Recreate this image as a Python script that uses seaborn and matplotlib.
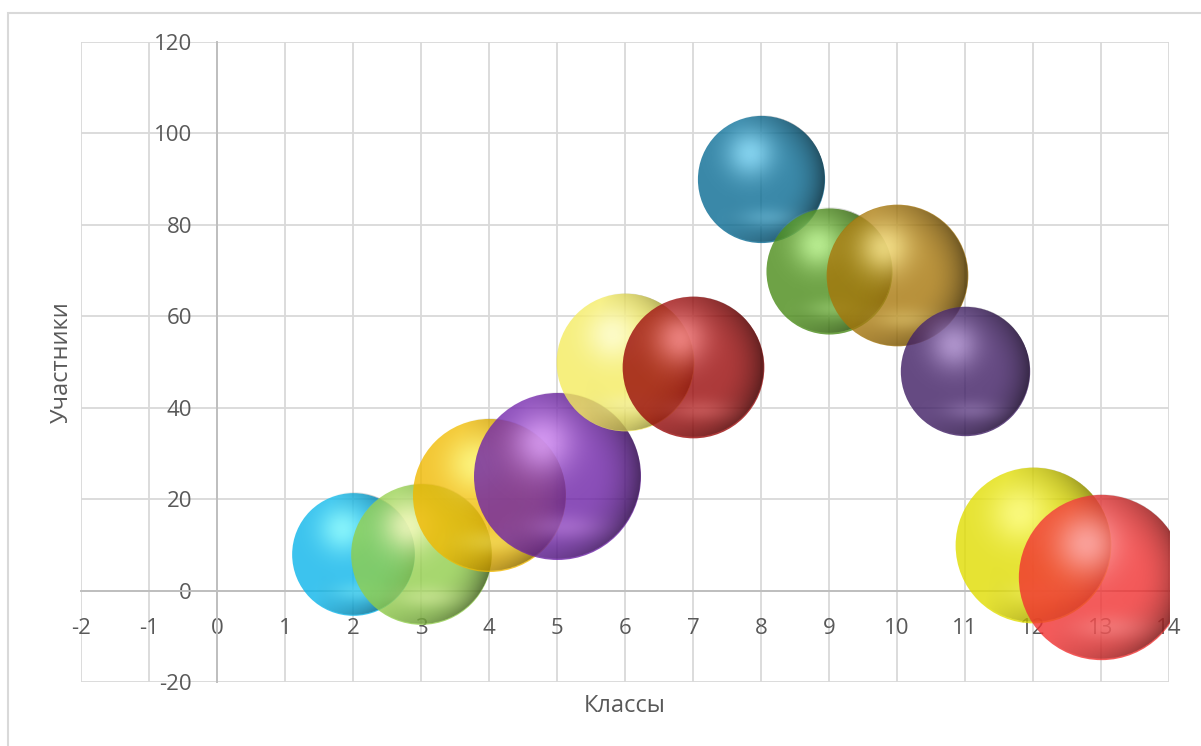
import numpy as np
import pandas as pd
import matplotlib
matplotlib.use("Agg")
import matplotlib.pyplot as plt
import matplotlib.colors as mcolors
import seaborn as sns
from matplotlib.offsetbox import OffsetImage, AnnotationBbox
from matplotlib.patches import Rectangle

# Bubble data
classes = [2, 3, 4, 5, 6, 7, 8, 9, 10, 11, 12, 13]
participants = [8, 8, 21, 25, 50, 49, 90, 70, 69, 48, 10, 3]
bubble_size = [54, 71, 84, 100, 68, 72, 58, 57, 72, 60, 87, 98]
colors = ["#0bb5ea", "#90ce4a", "#f0b800", "#6d22a7", "#f4eb5e", "#990909",
          "#096a92", "#4a8b18", "#a6760a", "#3e1d63", "#e0dd00", "#f13030"]

x_ticks = list(range(-2, 15))
y_ticks = list(range(-20, 121, 20))

df = pd.DataFrame({"x": classes, "y": participants, "size": bubble_size, "color": colors})

sns.set_theme(style="white")
plt.rcParams["font.family"] = ["Open Sans", "DejaVu Sans"]
plt.rcParams["axes.unicode_minus"] = False

DPI = 100
ALPHA = 0.8
fig = plt.figure(figsize=(12.01, 7.46), dpi=DPI)
ax = fig.add_axes([81 / 1201, 64 / 746, 1088 / 1201, 640 / 746])

# chart area border
fig.patches.append(Rectangle((8 / 1201, -0.1), 1.2, 1.1 - 13 / 746, transform=fig.transFigure,
                             fill=False, edgecolor="#d9d9d9", linewidth=1.5, zorder=0))

MAX_R_PX = 83.5  # radius of the biggest bubble, pixels


def sphere_shading(color, n=240):
    # light spot upper left, reflection low, darker rim on the right
    seen = ALPHA * np.array(mcolors.to_rgb(color)) + (1 - ALPHA)
    light = np.clip(seen + 0.36, 0, 1)
    v, u = np.mgrid[1:-1:n * 1j, -1:1:n * 1j]
    rho = np.sqrt(u ** 2 + v ** 2)
    d = np.sqrt((u + 0.18) ** 2 + (v - 0.4) ** 2)
    a_light = 0.78 * np.exp(-(d / 0.38) ** 2)
    a_light += 0.3 * np.exp(-((u - 0.1) / 0.45) ** 2 - ((v + 0.62) / 0.16) ** 2)
    a_light = np.clip(a_light, 0, 1)
    side = np.clip(0.3 + 0.7 * (0.85 * u - 0.15 * v), 0, 1)
    a_dark = 0.5 * np.clip((rho - 0.4) / 0.6, 0, 1) ** 1.8 * side
    a = a_light + a_dark * (1 - a_light)
    k = np.where(a > 0, a_light / np.maximum(a, 1e-6), 0)
    edge = np.clip((1 - rho) * n / 2 + 0.5, 0, 1)
    img = np.zeros((n, n, 4))
    for c in range(3):
        img[..., c] = k * light[c]
    img[..., 3] = a * edge
    return img


for i, row in df.iterrows():
    r_px = MAX_R_PX * np.sqrt(row["size"] / 100)
    d_pt = 2 * r_px * 72 / DPI
    sns.scatterplot(data=df.iloc[[i]], x="x", y="y", s=d_pt ** 2, color=row["color"],
                    alpha=ALPHA, linewidth=0, legend=False, ax=ax, zorder=3 + 2 * i)
    shade = sphere_shading(row["color"])
    oi = OffsetImage(shade, zoom=2 * r_px * 0.995 / shade.shape[0], dpi_cor=False,
                     interpolation="bilinear")
    ab = AnnotationBbox(oi, (row["x"], row["y"]), xycoords="data", frameon=False, pad=0,
                        box_alignment=(0.5, 0.5), zorder=4 + 2 * i)
    ax.add_artist(ab)
    oi.image.set_clip_path(ax.patch)

ax.set_xlim(-2, 14)
ax.set_ylim(-20, 120)
ax.set_xticks(x_ticks)
ax.set_yticks(y_ticks)

ax.grid(True, color="#d9d9d9", linewidth=1.3)
for gl in ax.get_xgridlines() + ax.get_ygridlines():
    gl.set_clip_on(False)
ax.set_axisbelow(True)

ax.spines["left"].set_position(("data", 0))
ax.spines["bottom"].set_position(("data", 0))
ax.spines["top"].set_visible(False)
ax.spines["right"].set_visible(False)
for s in ["left", "bottom"]:
    ax.spines[s].set_color("#bfbfbf")
    ax.spines[s].set_linewidth(1.4)
    ax.spines[s].set_zorder(1)

ax.tick_params(axis="x", length=0, pad=20, labelsize=16, labelcolor="#595959")
ax.tick_params(axis="y", length=0, pad=18, labelsize=16, labelcolor="#595959")

ax.set_xlabel("Классы", fontsize=17, color="#595959")
ax.set_ylabel("Участники", fontsize=17, color="#595959")
ax.xaxis.set_label_coords(0.5, -0.0375)
ax.yaxis.set_label_coords(-0.0175, 0.5)
ax.xaxis.label.set_va("center")
ax.yaxis.label.set_va("center")

fig.savefig("out.png", dpi=DPI)
